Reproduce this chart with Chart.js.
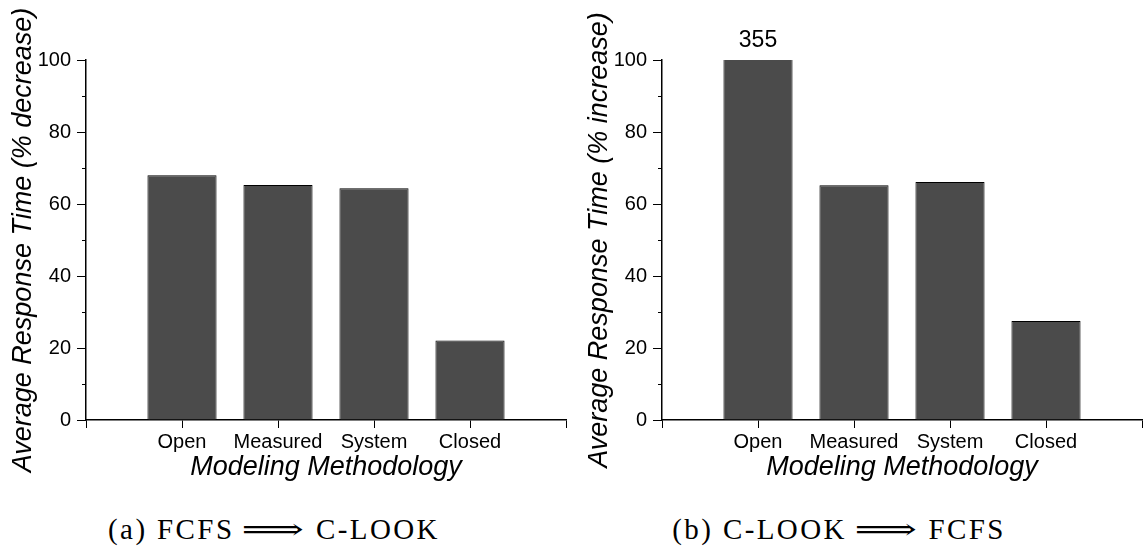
<!DOCTYPE html>
<html>
<head>
<meta charset="utf-8">
<script src="https://cdn.jsdelivr.net/npm/chart.js@4.4.1/dist/chart.umd.min.js"></script>
<style>
  body { margin: 0; background: #fff; width: 1144px; height: 548px; position: relative; overflow: hidden; }
  .panel { position: absolute; top: 0; width: 568px; height: 490px; }
  .cap {
    position: absolute; top: 513px; width: 548px; text-align: center;
    font-family: "Liberation Serif", serif; font-size: 29px; line-height: 32px;
    color: #000; white-space: nowrap;
  }
  .cap .t { letter-spacing: 2.4px; }
  .cap .arr { font-family: "DejaVu Serif", serif; display: inline-block; transform: scaleX(1.5); margin: 0 22px 0 18px; }
</style>
</head>
<body>
<div class="panel" style="left:0"><canvas id="chart-a" width="568" height="490"></canvas></div>
<div class="panel" style="left:576px"><canvas id="chart-b" width="568" height="490"></canvas></div>
<div class="cap" style="left:0"><span class="t">(a) FCFS</span><span class="arr">⟹</span><span class="t">C-LOOK</span></div>
<div class="cap" style="left:565px"><span class="t">(b) C-LOOK</span><span class="arr">⟹</span><span class="t">FCFS</span></div>
<script>
// empty slots at both ends give the end ticks of the x axis
const CATEGORIES = ["", "Open", "Measured", "System", "Closed", ""];
const DECREASE_VALUES = [null, 68.0, 65.3, 64.4, 22.1, null];
const INCREASE_VALUES = [null, 355, 65.2, 66.1, 27.5, null];
const Y_TICKS = [0, 20, 40, 60, 80, 100];
const Y_MINOR = [10, 30, 50, 70, 90];

const SANS = "'Liberation Sans', Arial, sans-serif";
const BAR_FILL = "#4b4b4b";

// short ticks between the labelled ones
const minorTicks = {
  id: "minorTicks",
  afterDraw(chart) {
    const y = chart.scales.y;
    const ctx = chart.ctx;
    ctx.save();
    ctx.strokeStyle = "#000";
    ctx.lineWidth = 1;
    Y_MINOR.forEach(v => {
      const py = Math.round(y.getPixelForValue(v)) + 0.5;
      ctx.beginPath();
      ctx.moveTo(y.right - 4, py);
      ctx.lineTo(y.right, py);
      ctx.stroke();
    });
    ctx.restore();
  },
};

// value printed over bars cut off by the axis maximum
const clippedLabels = {
  id: "clippedLabels",
  afterDatasetsDraw(chart) {
    const ds = chart.data.datasets[0];
    const max = chart.scales.y.max;
    const meta = chart.getDatasetMeta(0);
    const ctx = chart.ctx;
    ctx.save();
    ctx.fillStyle = "#000";
    ctx.font = "23px " + SANS;
    ctx.textAlign = "center";
    ctx.textBaseline = "alphabetic";
    ds.data.forEach((v, i) => {
      if (v == null || v <= max) return;
      const bar = meta.data[i];
      ctx.fillText(String(v), bar.x, chart.chartArea.top - 13);
    });
    ctx.restore();
  },
};

function makeChart(id, values, yTitle) {
  return new Chart(document.getElementById(id), {
    type: "bar",
    data: {
      labels: CATEGORIES,
      datasets: [{
        data: values,
        backgroundColor: BAR_FILL,
        borderColor: "#000",
        borderWidth: 1,
        categoryPercentage: 1,
        barPercentage: 0.72,
      }],
    },
    options: {
      responsive: false,
      animation: false,
      layout: { padding: { left: 0, right: 1, top: 60, bottom: 0 } },
      plugins: { legend: { display: false }, tooltip: { enabled: false } },
      scales: {
        x: {
          offset: false,
          grid: { offset: false, drawOnChartArea: false, drawTicks: true, tickLength: 8, color: "#000" },
          border: { display: true, color: "#000", width: 1.5 },
          ticks: { autoSkip: false, maxRotation: 0, padding: 2, color: "#000", font: { family: SANS, size: 20 } },
          title: {
            display: true, text: "Modeling Methodology", color: "#000",
            font: { family: SANS, size: 27, style: "italic" }, padding: { top: 0, bottom: 6 },
          },
          afterFit: s => { s.height = 70; },
        },
        y: {
          min: 0,
          max: 100,
          afterBuildTicks: s => { s.ticks = Y_TICKS.map(v => ({ value: v })); },
          grid: { drawOnChartArea: false, drawTicks: true, tickLength: 9, color: "#000" },
          border: { display: true, color: "#000", width: 1.5 },
          ticks: { padding: 6, color: "#000", font: { family: SANS, size: 20 } },
          title: {
            display: true, text: yTitle, color: "#000",
            font: { family: SANS, size: 27, style: "italic" }, padding: { top: 7, bottom: 0 },
          },
          afterFit: s => { s.width = 86; },
        },
      },
    },
    plugins: [minorTicks, clippedLabels],
  });
}

makeChart("chart-a", DECREASE_VALUES, "Average Response Time (% decrease)");
makeChart("chart-b", INCREASE_VALUES, "Average Response Time (% increase)");
</script>
</body>
</html>
